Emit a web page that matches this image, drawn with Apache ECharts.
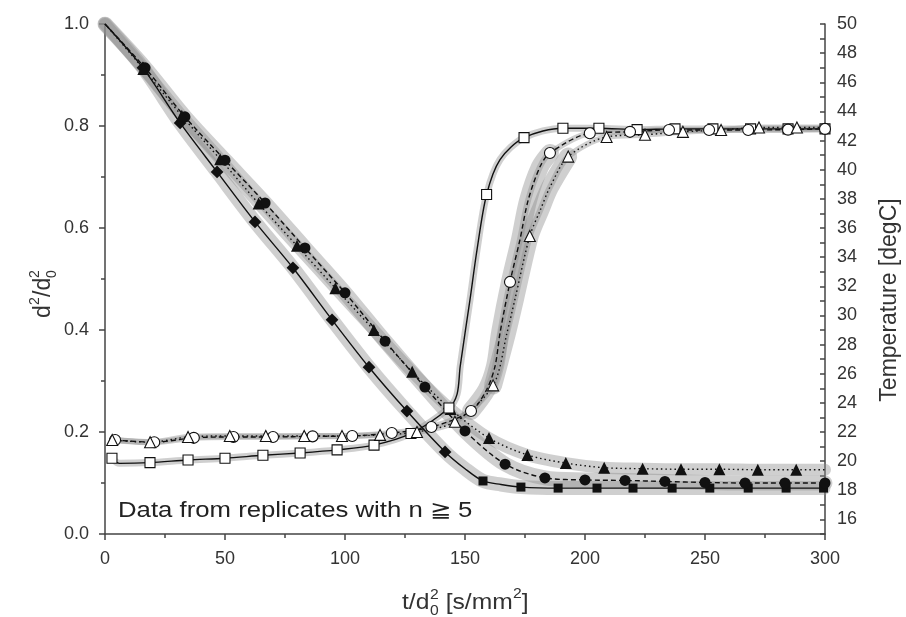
<!DOCTYPE html>
<html>
<head>
<meta charset="utf-8">
<script src="https://cdn.jsdelivr.net/npm/echarts@6/dist/echarts.min.js"></script>
<style>
html,body{margin:0;padding:0;background:#fff;}
#chart{width:906px;height:617px;}
</style>
</head>
<body>
<div id="chart"></div>
<script>
// ---- axis ticks ----
const xTicks = [0, 50, 100, 150, 200, 250, 300];
const yLeftTicks = [0.0, 0.2, 0.4, 0.6, 0.8, 1.0];
const yRightTicks = [16, 18, 20, 22, 24, 26, 28, 30, 32, 34, 36, 38, 40, 42, 44, 46, 48, 50];

// ---- d^2/d0^2 (left axis) ----
const dSquareMarkers = [[15.8,0.914],[31.3,0.806],[46.7,0.710],[62.5,0.612],[78.3,0.522],[94.6,0.420],[110,0.327],[125.8,0.241],[141.7,0.161],[157.5,0.104],[173.3,0.092],[188.8,0.090],[205,0.090],[220,0.090],[236.3,0.090],[252,0.090],[268,0.090],[283.8,0.090],[299.4,0.090]];
const dSquareExtra = [[0,1.0],[150,0.128],[165,0.097]];
const dCircleMarkers = [[16.7,0.914],[33.3,0.818],[50,0.733],[66.7,0.649],[83.3,0.561],[100,0.473],[116.7,0.378],[133.3,0.288],[150,0.202],[166.7,0.137],[183.3,0.110],[200,0.106],[216.7,0.105],[233.3,0.103],[250,0.101],[266.7,0.100],[283.3,0.100],[300,0.100]];
const dCircleExtra = [[0,1.0]];
const dTriangleMarkers = [[16,0.912],[32,0.820],[48,0.735],[64,0.648],[80,0.565],[96,0.482],[112,0.400],[128,0.318],[144,0.245],[160,0.188],[176,0.155],[192,0.139],[208,0.130],[224,0.128],[240,0.127],[256,0.127],[272,0.126],[288,0.126]];
const dTriangleExtra = [[0,1.0],[300,0.126]];

// ---- Temperature (right axis) ----
const tSquareMarkers = [[2.9,20.2],[18.75,19.9],[34.6,20.08],[50,20.2],[65.8,20.4],[81.3,20.56],[96.7,20.77],[112.1,21.1],[127.5,21.9],[143.3,23.65],[159,38.3],[174.6,42.2],[190.8,42.85],[205.8,42.85],[221.7,42.75],[237.5,42.8],[253.3,42.8],[269,42.8],[284.6,42.8],[300,42.8]];
const tSquareExtra = [[6,19.85],[146.7,24.6],[148,26.5],[152.1,31.1],[155,34.5],[164.6,40.7]];
const tCircleMarkers = [[4.2,21.45],[20.5,21.3],[37,21.6],[53.5,21.66],[70,21.66],[86.5,21.7],[103,21.73],[119.5,21.93],[136,22.34],[152.5,23.44],[168.75,32.3],[185.4,41.15],[202,42.5],[218.75,42.6],[235,42.73],[251.7,42.73],[268,42.73],[284.6,42.75],[300,42.8]];
const tCircleExtra = [[159,24.9],[162.5,26.5],[164.6,28.8],[172.9,35.2],[176.3,37.9],[181.25,40.2]];
const tTriangleMarkers = [[3,21.45],[18.8,21.3],[34.6,21.66],[52,21.73],[67,21.73],[83,21.73],[98.75,21.73],[114.6,21.8],[130,22.0],[145.8,22.7],[161.7,25.2],[177,35.45],[193,40.9],[209,42.25],[225,42.4],[240.8,42.6],[256.7,42.73],[272.5,42.9],[288.3,42.9]];
const tTriangleExtra = [[167.5,28.8],[170.8,31.1],[181.3,37.2],[185.4,38.8],[300,42.9]];

function curve(markers, extra){ return markers.concat(extra).sort((a,b)=>a[0]-b[0]); }
function between(arr, lo, hi){ return arr.filter(p => p[0] >= lo && p[0] <= hi); }

const BAND = 'rgba(140,140,140,0.42)';
const INK = '#111';
const TXT = '#333';
const FAM = 'Liberation Sans, Arial, sans-serif';

function band(data, yIdx, w){
  return {type:'line', data:data, yAxisIndex:yIdx, smooth:0.3, showSymbol:false, silent:true, z:1,
    lineStyle:{color:BAND, width:w, cap:'round', join:'round'}};
}
function line(data, yIdx, dash){
  return {type:'line', data:data, yAxisIndex:yIdx, smooth:0.3, showSymbol:false, silent:true, z:3,
    lineStyle:{color:INK, width:1.4, type:dash}};
}
function marks(data, yIdx, symbol, filled, size, rot){
  return {type:'scatter', data:data, yAxisIndex:yIdx, symbol:symbol, symbolSize:size, z:5, silent:true,
    symbolRotate: rot || 0,
    itemStyle:{color: filled ? INK : '#fff', borderColor: INK, borderWidth: filled ? 0 : 1.1, opacity:1}};
}
function txt(x, y, s, size, align){
  return {type:'text', x:x, y:y, style:{text:s, fontSize:size, fontFamily:FAM, fill:TXT, verticalAlign:'middle', align:align||'left'}};
}

const dSq = curve(dSquareMarkers, dSquareExtra);
const dCi = curve(dCircleMarkers, dCircleExtra);
const dTr = curve(dTriangleMarkers, dTriangleExtra);
const tSq = curve(tSquareMarkers, tSquareExtra);
const tCi = curve(tCircleMarkers, tCircleExtra);
const tTr = curve(tTriangleMarkers, tTriangleExtra);

const chart = echarts.init(document.getElementById('chart'), null, {renderer:'canvas'});
const axisFont = {fontFamily:FAM, fontSize:18, color:TXT};

chart.setOption({
  animation:false,
  backgroundColor:'#fff',
  grid:{left:105, right:81, top:24, bottom:83, containLabel:false},
  xAxis:{type:'value', min:xTicks[0], max:xTicks[xTicks.length-1], interval:xTicks[1]-xTicks[0],
    axisLine:{show:true, onZero:false, lineStyle:{color:'#444', width:1.5}},
    axisTick:{show:true, length:6, lineStyle:{color:'#444', width:1.5}},
    minorTick:{show:true, splitNumber:2, length:4, lineStyle:{color:'#444', width:1.5}},
    splitLine:{show:false},
    axisLabel:Object.assign({margin:16}, axisFont)},
  yAxis:[
    {type:'value', min:yLeftTicks[0], max:yLeftTicks[yLeftTicks.length-1], interval:yLeftTicks[1]-yLeftTicks[0], position:'left',
      axisLine:{show:true, onZero:false, lineStyle:{color:'#444', width:1.5}},
      axisTick:{show:true, length:6, lineStyle:{color:'#444', width:1.5}},
      minorTick:{show:true, splitNumber:2, length:4, lineStyle:{color:'#444', width:1.5}},
      splitLine:{show:false},
      axisLabel:Object.assign({margin:16, formatter:v=>v.toFixed(1)}, axisFont)},
    {type:'value', min:15, max:yRightTicks[yRightTicks.length-1], interval:1, position:'right',
      axisLine:{show:true, onZero:false, lineStyle:{color:'#444', width:1.5}},
      axisTick:{show:true, inside:true, length:5, lineStyle:{color:'#444', width:1.5}},
      splitLine:{show:false},
      axisLabel:Object.assign({margin:12, formatter:v=>(yRightTicks.indexOf(v)>=0 ? String(v) : '')}, axisFont)}
  ],
  graphic:[
    {type:'text', x:118, y:511, scaleX:1.17, style:{text:'Data from replicates with n \u2267 5', fontSize:22, fontFamily:FAM, fill:'#222', verticalAlign:'middle'}},
    {type:'group', x:402, y:603, scaleX:1.12, children:[
      txt(0, 0, 't/d', 22),
      txt(25, -8, '2', 14), txt(25, 8, '0', 14),
      txt(39, 0, '[s/mm', 22),
      txt(99, -9, '2', 14),
      txt(107, 0, ']', 22)
    ]},
    {type:'group', x:44, y:318, rotation:Math.PI/2, children:[
      txt(0, 0, 'd', 23),
      txt(13, -9, '2', 14),
      txt(21, 0, '/d', 23),
      txt(40, -9, '2', 14), txt(40, 8, '0', 14)
    ]},
    {type:'group', x:890, y:300, rotation:Math.PI/2, children:[
      txt(0, 0, 'Temperature [degC]', 23, 'center')
    ]}
  ],
  series:[
    band(dSq, 0, 14), band(dCi, 0, 15), band(dTr, 0, 12),
    band(tSq, 1, 7), band(tCi, 1, 6), band(tTr, 1, 6),
    band(between(tCi, 150, 195), 1, 18), band(between(tTr, 155, 200), 1, 18),
    line(dSq, 0, 'solid'), line(dCi, 0, [5,3]), line(dTr, 0, [1.5,3]),
    line(tSq, 1, 'solid'), line(tCi, 1, [5,3]), line(tTr, 1, [1.5,3]),
    marks(between(dSquareMarkers,0,150), 0, 'rect', true, 9, 45),
    marks(between(dSquareMarkers,150,300), 0, 'rect', true, 9, 0),
    marks(dCircleMarkers, 0, 'circle', true, 11),
    marks(dTriangleMarkers, 0, 'triangle', true, 12),
    marks(tSquareMarkers, 1, 'rect', false, 10),
    marks(tCircleMarkers, 1, 'circle', false, 11),
    marks(tTriangleMarkers, 1, 'triangle', false, 11)
  ]
});
</script>
</body>
</html>
